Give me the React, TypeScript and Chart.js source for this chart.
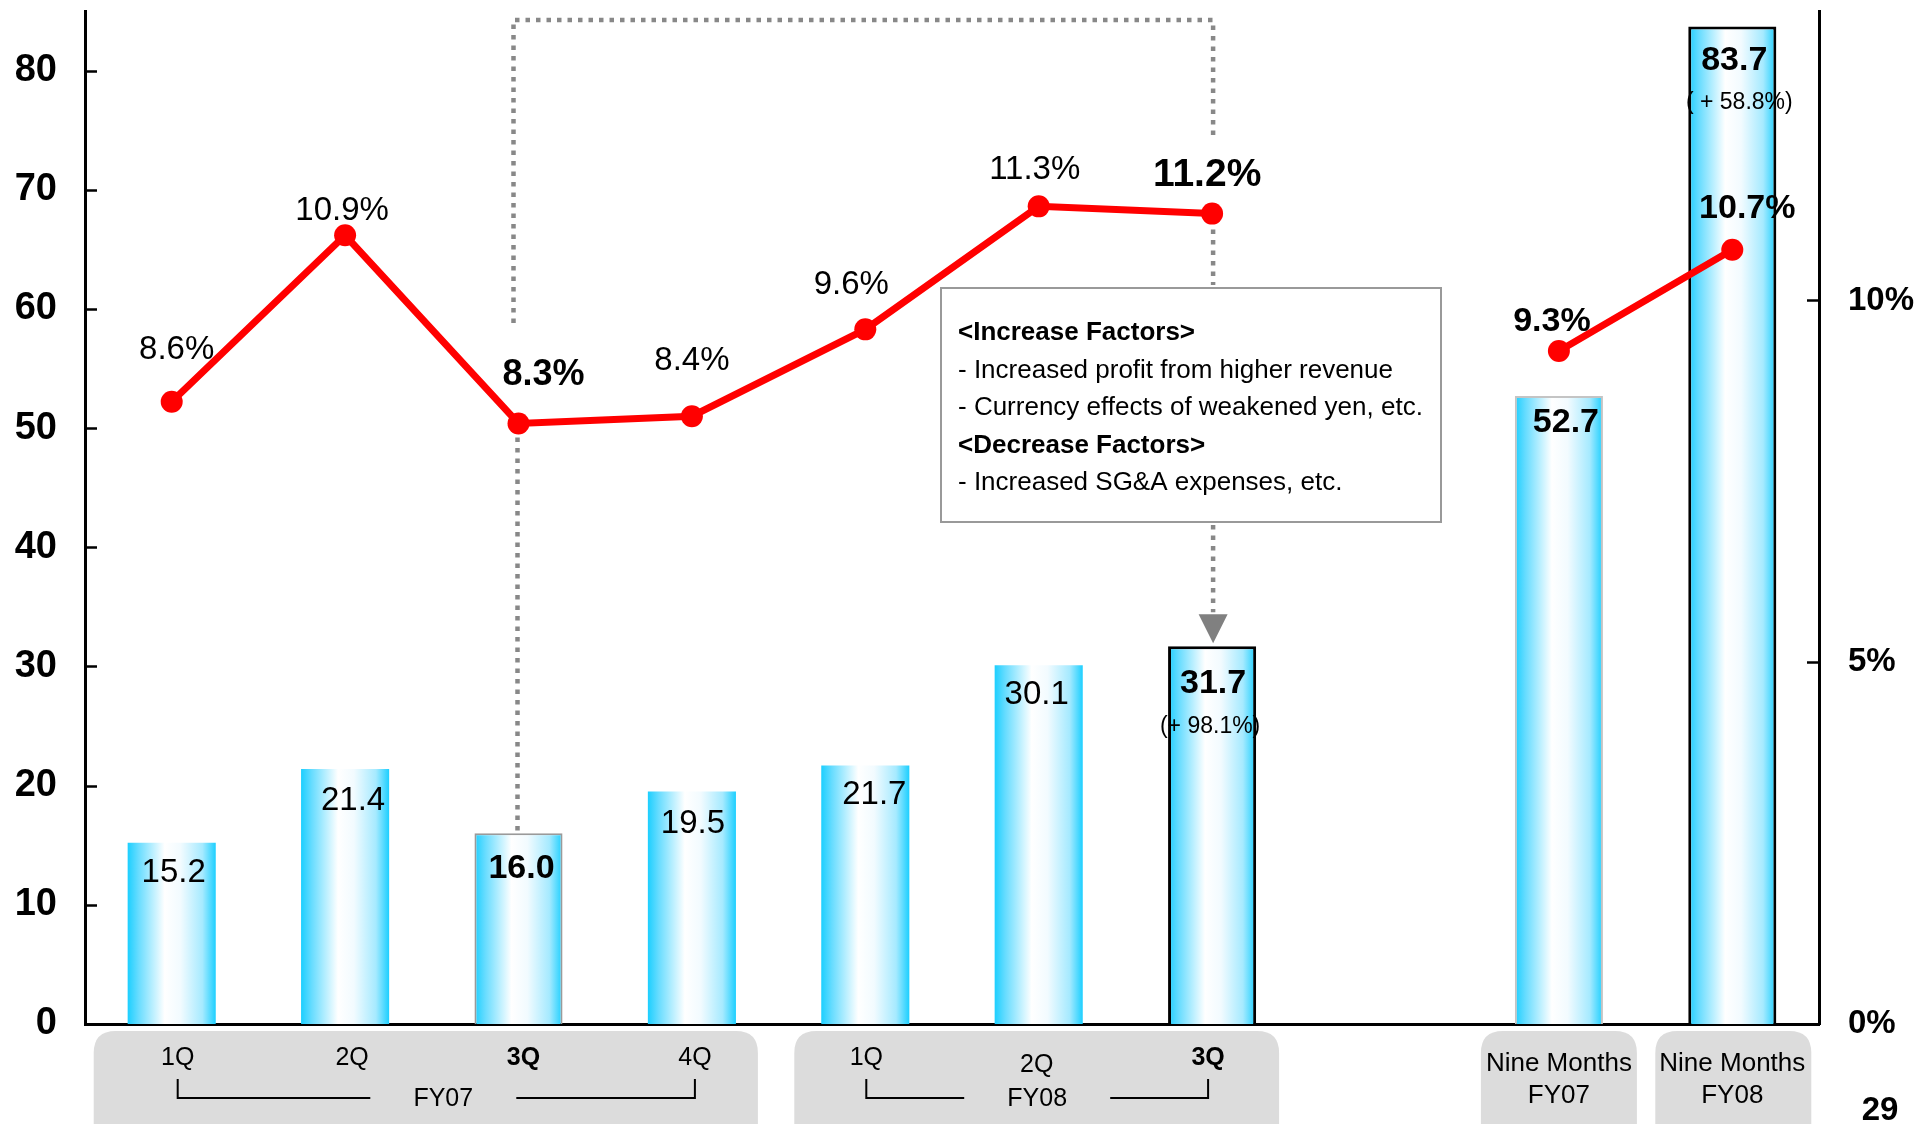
import React, { useEffect, useRef } from 'react';
import { Chart, registerables } from 'chart.js';

Chart.register(...registerables);

// ---------------- data ----------------
const categories = ['FY07 1Q', 'FY07 2Q', 'FY07 3Q', 'FY07 4Q', 'FY08 1Q', 'FY08 2Q', 'FY08 3Q', '', 'Nine Months FY07', 'Nine Months FY08'];
const operatingIncome: (number | null)[] = [15.2, 21.4, 16.0, 19.5, 21.7, 30.1, 31.7, null, 52.7, 83.7];
const operatingMargin: (number | null)[] = [8.6, 10.9, 8.3, 8.4, 9.6, 11.3, 11.2, null, 9.3, 10.7];
const growthLabels: (string | null)[] = [null, null, null, null, null, null, '(+ 98.1%)', null, null, '( + 58.8%)'];
const leftTicks = [0, 10, 20, 30, 40, 50, 60, 70, 80];
const rightTicks = [0, 5, 10];
const quarterLabels = ['1Q', '2Q', '3Q', '4Q', '1Q', '2Q', '3Q', '', '', ''];
const yearGroups = [
  { from: 0, to: 3, label: 'FY07' },
  { from: 4, to: 6, label: 'FY08' },
];
const totalLabels: (string[] | null)[] = [null, null, null, null, null, null, null, null, ['Nine Months', 'FY07'], ['Nine Months', 'FY08']];
const calloutLines = [
  { text: '<Increase Factors>', bold: true },
  { text: '- Increased profit from higher revenue', bold: false },
  { text: '- Currency effects of weakened yen, etc.', bold: false },
  { text: '<Decrease Factors>', bold: true },
  { text: '- Increased SG&A expenses, etc.', bold: false },
];
const pageNumber = '29';

// ---------------- styles ----------------
const FONT = '"Liberation Sans", Arial, Helvetica, sans-serif';
const W = 1930;
const H = 1124;
const BAR_PCT = 0.508;
const barBorderColors = ['rgba(0,0,0,0)', 'rgba(0,0,0,0)', '#9a9a9a', 'rgba(0,0,0,0)', 'rgba(0,0,0,0)', 'rgba(0,0,0,0)', '#000000', 'rgba(0,0,0,0)', '#c4c4c4', '#000000'];
const barBorderWidths = [0, 0, 2, 0, 0, 0, 3, 0, 2, 3];
const barLabelStyle = [
  { bold: false, dx: 2, dy: 39 },
  { bold: false, dx: 8, dy: 41 },
  { bold: true, dx: 3, dy: 45 },
  { bold: false, dx: 1, dy: 41 },
  { bold: false, dx: 9, dy: 39 },
  { bold: false, dx: -2, dy: 39 },
  { bold: true, dx: 1, dy: 47, subDx: -2, subDy: 87 },
  null,
  { bold: true, dx: 7, dy: 36 },
  { bold: true, dx: 2, dy: 44, subDx: 7, subDy: 83 },
];
const lineLabelStyle = [
  { bold: false, size: 33, dx: 5, dy: -43 },
  { bold: false, size: 33, dx: -3, dy: -15 },
  { bold: true, size: 36, dx: 25, dy: -38 },
  { bold: false, size: 33, dx: 0, dy: -46 },
  { bold: false, size: 33, dx: -14, dy: -35 },
  { bold: false, size: 33, dx: -4, dy: -27 },
  { bold: true, size: 39, dx: -5, dy: -28 },
  null,
  { bold: true, size: 34, dx: -7, dy: -20 },
  { bold: true, size: 34, dx: 15, dy: -32 },
];
const quarterBold = [false, false, true, false, false, false, true];
const quarterDx = [6, 7, 5, 3, 1, -2, -4];
const quarterDy = [0, 0, 0, 0, 0, 7, 0];
const yearDx = [7, 0];
const labelBoxes = [
  { from: 0, to: 3, padL: 78, padR: 66 },
  { from: 4, to: 6, padL: 71, padR: 67 },
  { from: 8, to: 8, padL: 78, padR: 78 },
  { from: 9, to: 9, padL: 77, padR: 79 },
];
const callout = { x: 941, y: 288, w: 500, h: 234 };

function font(size: number, bold: boolean) {
  return `${bold ? 'bold ' : ''}${size}px ${FONT}`;
}

function roundRect(ctx: CanvasRenderingContext2D, x: number, y: number, w: number, h: number, r: number) {
  ctx.beginPath();
  ctx.moveTo(x + r, y);
  ctx.lineTo(x + w - r, y);
  ctx.quadraticCurveTo(x + w, y, x + w, y + r);
  ctx.lineTo(x + w, y + h - r);
  ctx.quadraticCurveTo(x + w, y + h, x + w - r, y + h);
  ctx.lineTo(x + r, y + h);
  ctx.quadraticCurveTo(x, y + h, x, y + h - r);
  ctx.lineTo(x, y + r);
  ctx.quadraticCurveTo(x, y, x + r, y);
  ctx.closePath();
}

const decorPlugin = {
  id: 'decor',
  beforeDatasetsDraw(chart: any) {
    const ctx: CanvasRenderingContext2D = chart.ctx;
    const area = chart.chartArea;
    const ys = chart.scales.y;
    const y1 = chart.scales.y1;
    ctx.save();
    ctx.strokeStyle = '#000';
    ctx.lineWidth = 2.5;
    ctx.beginPath();
    leftTicks.forEach((v) => {
      const py = Math.round(ys.getPixelForValue(v)) + 0.5;
      ctx.moveTo(area.left, py);
      ctx.lineTo(area.left + 12, py);
    });
    rightTicks.forEach((v) => {
      const py = Math.round(y1.getPixelForValue(v)) + 0.5;
      ctx.moveTo(area.right - 12, py);
      ctx.lineTo(area.right, py);
    });
    ctx.stroke();
    ctx.restore();
  },
  afterDatasetsDraw(chart: any) {
    const ctx: CanvasRenderingContext2D = chart.ctx;
    const xs = chart.scales.x;
    const ys = chart.scales.y;
    const y1 = chart.scales.y1;
    const area = chart.chartArea;
    const cx = (i: number) => xs.getPixelForValue(i);

    // dotted connector lines
    ctx.save();
    ctx.strokeStyle = '#888888';
    ctx.lineWidth = 4.5;
    ctx.setLineDash([4.5, 6]);
    const topY = area.top + 9;
    const xa = cx(2) - 5;
    const xb = cx(6) + 1;
    ctx.beginPath();
    ctx.moveTo(xa, 323);
    ctx.lineTo(xa, topY);
    ctx.lineTo(xb, topY);
    ctx.lineTo(xb, 135);
    ctx.stroke();
    // below 8.3% point down to 3Q FY07 bar
    const p2 = y1.getPixelForValue(operatingMargin[2] as number);
    ctx.beginPath();
    ctx.moveTo(cx(2) - 1, p2 + 14);
    ctx.lineTo(cx(2) - 1, ys.getPixelForValue(operatingIncome[2] as number) - 2);
    ctx.stroke();
    // below 11.2% point to callout
    const p6 = y1.getPixelForValue(operatingMargin[6] as number);
    ctx.beginPath();
    ctx.moveTo(xb, p6 + 16);
    ctx.lineTo(xb, callout.y - 3);
    ctx.stroke();
    // below callout to arrow
    const barTop6 = ys.getPixelForValue(operatingIncome[6] as number);
    ctx.beginPath();
    ctx.moveTo(xb, callout.y + callout.h + 3);
    ctx.lineTo(xb, barTop6 - 34);
    ctx.stroke();
    ctx.setLineDash([]);
    ctx.fillStyle = '#808080';
    ctx.beginPath();
    ctx.moveTo(xb - 14.5, barTop6 - 32);
    ctx.lineTo(xb + 14.5, barTop6 - 32);
    ctx.lineTo(xb, barTop6 - 3);
    ctx.closePath();
    ctx.fill();
    ctx.restore();

    // callout box
    ctx.save();
    ctx.fillStyle = '#ffffff';
    ctx.fillRect(callout.x, callout.y, callout.w, callout.h);
    ctx.strokeStyle = '#999999';
    ctx.lineWidth = 2;
    ctx.strokeRect(callout.x, callout.y, callout.w, callout.h);
    ctx.fillStyle = '#000';
    ctx.textAlign = 'left';
    ctx.textBaseline = 'alphabetic';
    calloutLines.forEach((ln, i) => {
      ctx.font = font(26, ln.bold);
      ctx.fillText(ln.text, callout.x + 17, callout.y + 52 + i * 37.5);
    });
    ctx.restore();

    // bar value labels
    const barMeta = chart.getDatasetMeta(0);
    ctx.save();
    ctx.fillStyle = '#000';
    ctx.textAlign = 'center';
    ctx.textBaseline = 'alphabetic';
    barMeta.data.forEach((el: any, i: number) => {
      const v = operatingIncome[i];
      const st: any = barLabelStyle[i];
      if (v == null || !st) return;
      ctx.font = font(st.bold ? 34 : 33, st.bold);
      ctx.fillText(v.toFixed(1), el.x + st.dx, el.y + st.dy);
      const g = growthLabels[i];
      if (g) {
        ctx.font = font(23, false);
        ctx.fillText(g, el.x + st.subDx, el.y + st.subDy);
      }
    });
    // line labels
    const lineMeta = chart.getDatasetMeta(1);
    lineMeta.data.forEach((el: any, i: number) => {
      const v = operatingMargin[i];
      const st: any = lineLabelStyle[i];
      if (v == null || !st) return;
      ctx.font = font(st.size, st.bold);
      ctx.fillText(v.toFixed(1) + '%', el.x + st.dx, el.y + st.dy);
    });
    ctx.restore();
  },
  afterDraw(chart: any) {
    const ctx: CanvasRenderingContext2D = chart.ctx;
    const xs = chart.scales.x;
    const area = chart.chartArea;
    const cx = (i: number) => xs.getPixelForValue(i);
    ctx.save();
    // grey label boxes
    ctx.fillStyle = '#dcdcdc';
    labelBoxes.forEach((b) => {
      const x0 = cx(b.from) - b.padL;
      const x1 = cx(b.to) + b.padR;
      roundRect(ctx, x0, area.bottom + 7, x1 - x0, 120, 22);
      ctx.fill();
    });
    ctx.fillStyle = '#000';
    ctx.textAlign = 'center';
    ctx.textBaseline = 'alphabetic';
    const qBase = area.bottom + 41;
    quarterLabels.forEach((q, i) => {
      if (!q) return;
      ctx.font = font(25, quarterBold[i]);
      ctx.fillText(q, cx(i) + (quarterDx[i] || 0), qBase + (quarterDy[i] || 0));
    });
    // year brackets
    ctx.strokeStyle = '#000';
    ctx.lineWidth = 2;
    yearGroups.forEach((g, gi) => {
      const xl = cx(g.from) + quarterDx[g.from];
      const xr = cx(g.to) + quarterDx[g.to];
      const mid = (xl + xr) / 2 + yearDx[gi];
      const yTop = area.bottom + 55;
      const yBot = area.bottom + 74;
      ctx.beginPath();
      ctx.moveTo(xl, yTop);
      ctx.lineTo(xl, yBot);
      ctx.lineTo(mid - 73, yBot);
      ctx.moveTo(mid + 73, yBot);
      ctx.lineTo(xr, yBot);
      ctx.lineTo(xr, yTop);
      ctx.stroke();
      ctx.font = font(25, false);
      ctx.fillText(g.label, mid, area.bottom + 82);
    });
    totalLabels.forEach((t, i) => {
      if (!t) return;
      ctx.font = font(26, false);
      ctx.fillText(t[0], cx(i), area.bottom + 47);
      ctx.fillText(t[1], cx(i), area.bottom + 79);
    });
    ctx.font = font(33, true);
    ctx.fillText(pageNumber, 1880, 1120);
    ctx.restore();
  },
};

export default function App() {
  const ref = useRef<HTMLCanvasElement | null>(null);
  useEffect(() => {
    if (!ref.current) return;
    const chart = new Chart(ref.current, {
      type: 'bar',
      data: {
        labels: categories,
        datasets: [
          {
            type: 'bar',
            label: 'Operating Income',
            data: operatingIncome as any,
            yAxisID: 'y',
            order: 1,
            barPercentage: BAR_PCT,
            categoryPercentage: 1,
            borderColor: barBorderColors,
            borderWidth: barBorderWidths,
            borderSkipped: 'start',
            backgroundColor: (c: any) => {
              const chart = c.chart;
              const area = chart.chartArea;
              if (!area || c.type !== 'data') return '#33ccff';
              const px = chart.scales.x.getPixelForValue(c.dataIndex);
              const w = (area.width / categories.length) * BAR_PCT;
              const g = chart.ctx.createLinearGradient(px - w / 2, 0, px + w / 2, 0);
              g.addColorStop(0, '#1ccfff');
              g.addColorStop(0.12, '#66dcff');
              g.addColorStop(0.42, '#ffffff');
              g.addColorStop(0.6, '#f2fbff');
              g.addColorStop(0.85, '#a6eaff');
              g.addColorStop(1, '#1ccfff');
              return g;
            },
          } as any,
          {
            type: 'line',
            label: 'Operating Margin',
            data: operatingMargin as any,
            yAxisID: 'y1',
            order: 0,
            borderColor: '#ff0000',
            backgroundColor: '#ff0000',
            borderWidth: 7,
            pointRadius: 11,
            pointHoverRadius: 11,
            pointBorderWidth: 0,
            pointBackgroundColor: '#ff0000',
            spanGaps: false,
            tension: 0,
          } as any,
        ],
      },
      options: {
        responsive: false,
        animation: false,
        devicePixelRatio: 1,
        layout: { padding: { top: 8, left: 0, right: 0, bottom: 0 } },
        plugins: {
          legend: { display: false },
          tooltip: { enabled: false },
          title: { display: false },
        },
        scales: {
          x: {
            type: 'category',
            offset: true,
            grid: { display: false, drawTicks: false },
            ticks: { display: false },
            border: { display: true, color: '#000', width: 3 },
            afterFit: (s: any) => {
              s.height = 100;
              s.paddingLeft = 0;
              s.paddingRight = 0;
            },
          },
          y: {
            type: 'linear',
            position: 'left',
            min: 0,
            max: 85,
            grid: { display: false, drawTicks: false },
            border: { display: true, color: '#000', width: 3 },
            ticks: {
              stepSize: 10,
              includeBounds: false,
              padding: 28,
              color: '#000',
              font: { family: FONT, size: 38, weight: 'bold' },
              callback: (v: any) => (leftTicks.includes(Number(v)) ? String(v) : ''),
            },
            afterFit: (s: any) => {
              s.width = 85;
              s.paddingTop = 0;
              s.paddingBottom = 0;
            },
          },
          y1: {
            type: 'linear',
            position: 'right',
            min: 0,
            max: 14,
            grid: { display: false, drawTicks: false },
            border: { display: true, color: '#000', width: 3 },
            ticks: {
              stepSize: 5,
              includeBounds: false,
              padding: 29,
              color: '#000',
              font: { family: FONT, size: 33, weight: 'bold' },
              callback: (v: any) => (rightTicks.includes(Number(v)) ? v + '%' : ''),
            },
            afterFit: (s: any) => {
              s.width = 111;
              s.paddingTop = 0;
              s.paddingBottom = 0;
            },
          },
        },
      } as any,
      plugins: [decorPlugin],
    });
    return () => chart.destroy();
  }, []);

  return (
    <div style={{ position: 'absolute', left: 0, top: 0, width: W, height: H, background: '#fff' }}>
      <canvas ref={ref} width={W} height={H} style={{ width: W, height: H, display: 'block' }} />
    </div>
  );
}
